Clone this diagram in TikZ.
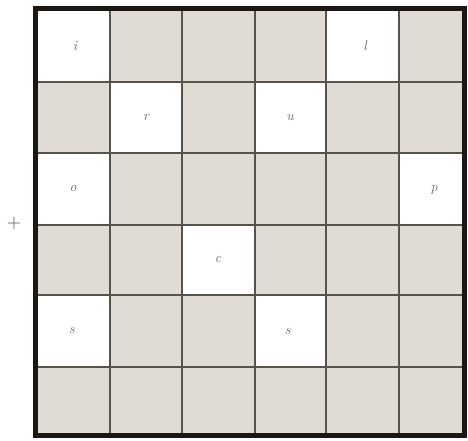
\documentclass[tikz,border=0pt]{standalone}
\definecolor{cellgray}{HTML}{E0DCD4}
\definecolor{gridline}{HTML}{57524B}
\definecolor{framecol}{HTML}{1C1712}
\definecolor{lettercol}{HTML}{6A6660}
\tikzset{
  letter/.style={font=\fontsize{14}{16}\selectfont\itshape, text=lettercol, inner sep=0pt},
  gridl/.style={draw=gridline, line width=1.2pt},
  framebox/.style={draw=framecol, line width=5.5pt},
}
\begin{document}
\begin{tikzpicture}[x=1pt,y=-1pt]
\useasboundingbox (0,0) rectangle (468,441);
\def\xs{{38,110,182,255,326,399,462}}
\def\ys{{11,82,153,225,295,367,433}}
% gray background of grid
\fill[cellgray] (38,11) rectangle (462,433);
% white cells: col,row
\foreach \c/\r in {0/0,4/0,1/1,3/1,0/2,5/2,2/3,0/4,3/4}{
  \pgfmathsetmacro{\xa}{\xs[\c]}
  \pgfmathsetmacro{\xb}{\xs[\c+1]}
  \pgfmathsetmacro{\ya}{\ys[\r]}
  \pgfmathsetmacro{\yb}{\ys[\r+1]}
  \fill[white] (\xa,\ya) rectangle (\xb,\yb);
}
% grid lines
\foreach \x in {110,182,255,326,399}{
  \draw[gridl] (\x,11) -- (\x,433);
}
\foreach \y in {82,153,225,295,367}{
  \draw[gridl] (38,\y) -- (462,\y);
}
% frame
\draw[framebox] (35.5,8.5) rectangle (464.5,435.5);
% letters
\node[letter] (i) at (75,46) {i};
\node[letter] (l) at (365,46) {l};
\node[letter] (r) at (146,117) {r};
\node[letter] (u) at (290,117) {u};
\node[letter] (o) at (73,188) {o};
\node[letter] (p) at (434,190) {p};
\node[letter] (c) at (218,259) {c};
\node[letter] (s1) at (72,330) {s};
\node[letter] (s2) at (288,331) {s};
% plus sign
\node[font=\fontsize{20}{22}\selectfont, text=gridline, inner sep=0pt] (plus) at (14,224) {+};
\end{tikzpicture}
\end{document}
